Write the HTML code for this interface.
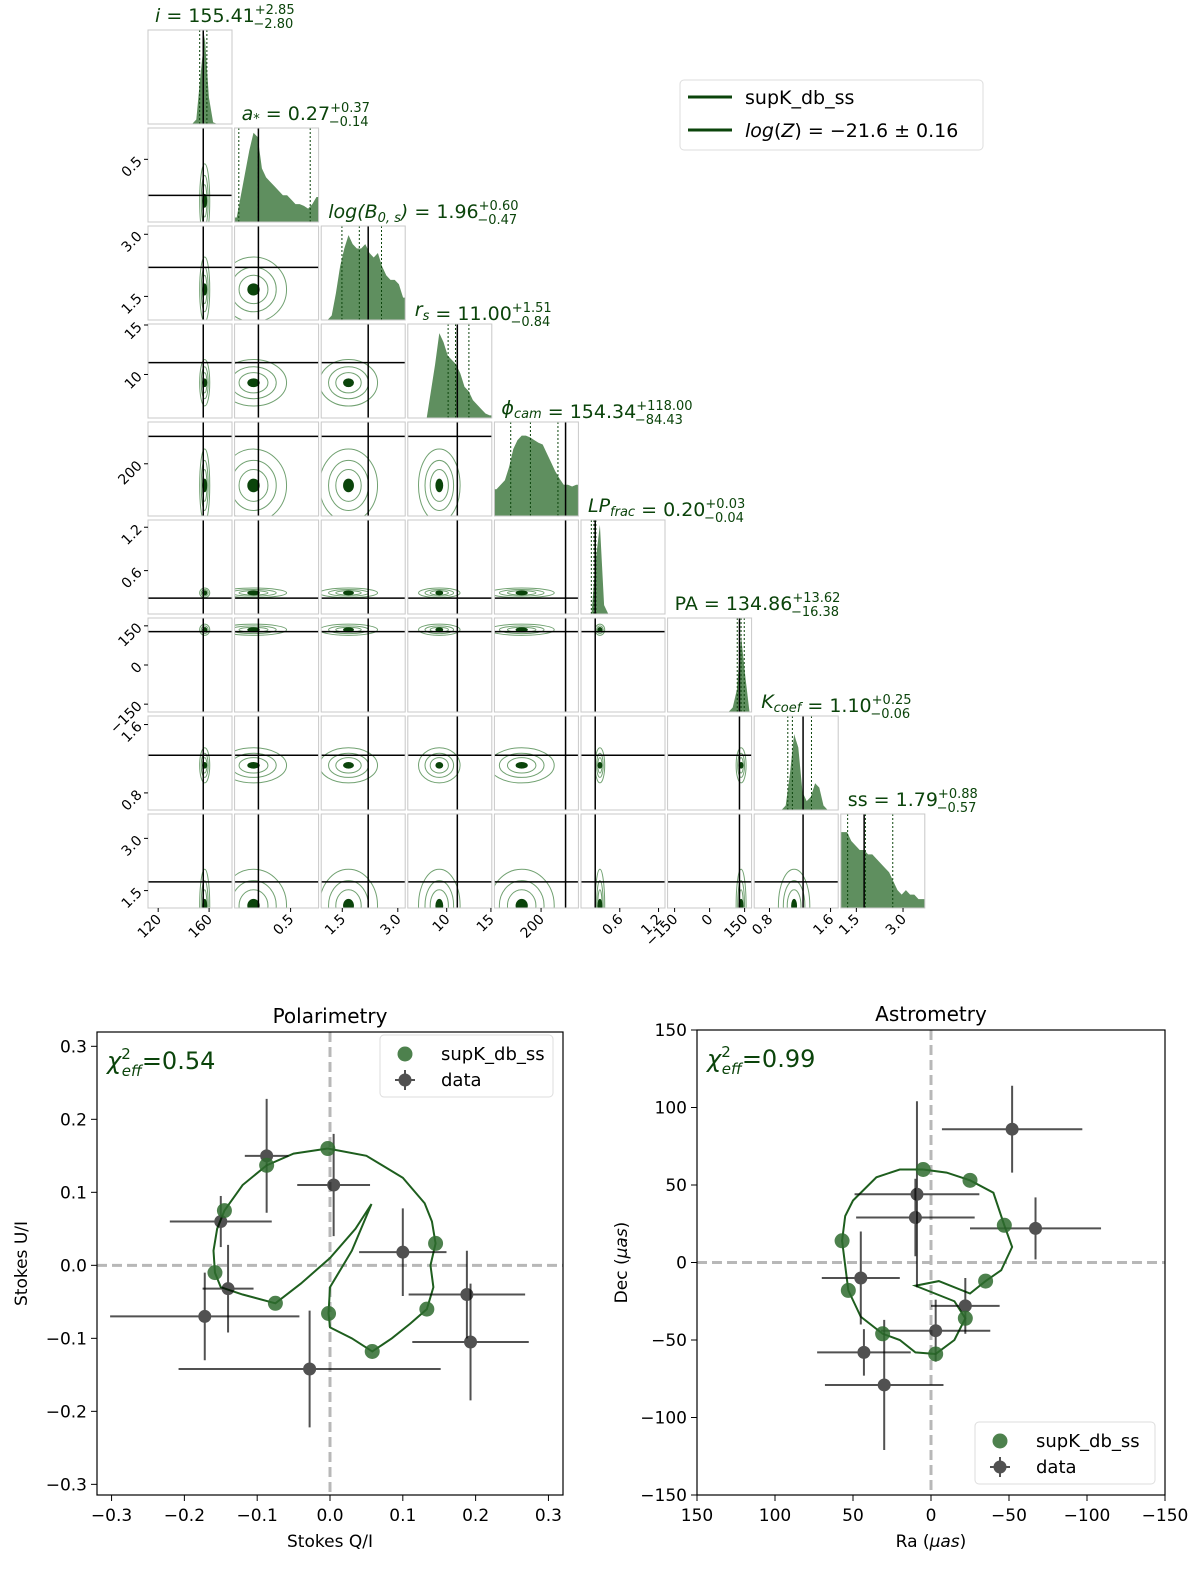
<!DOCTYPE html>
<html><head><meta charset="utf-8">
<style>
body{margin:0;background:#fff;}
#wrap{position:relative;width:1200px;height:1574px;overflow:hidden;font-family:"DejaVu Sans","Liberation Sans",sans-serif;}
svg text{font-family:"DejaVu Sans","Liberation Sans",sans-serif;}
</style></head>
<body>
<div id="wrap">
<svg id="svg" width="1200" height="1574" viewBox="0 0 1200 1574" xmlns="http://www.w3.org/2000/svg"></svg>
</div>
<script>
// ---------- corner plot data ----------
const paramLabels = ["i","a*","logB","rs","phi","LP","PA","K","ss"];
const paramLo = [112,0.1,0.93,5.6,0,0,-180,0.6,1.0];
const paramHi = [178,0.7,3.2,15.1,360,1.3,180,1.7,3.7];
const truthVals = [155.4,0.27,2.2,11.2,305,0.22,128,1.24,1.75];
const medians = [155.41,0.27,1.96,11.0,154.34,0.20,134.86,1.10,1.79];
const errPlus = [2.85,0.37,0.60,1.51,118.0,0.03,13.62,0.25,0.88];
const errMinus = [2.80,0.14,0.47,0.84,84.43,0.04,16.38,0.06,0.57];
const tickVals = [[120,160],[0.5],[1.5,3.0],[10,15],[200],[0.6,1.2],[-150,0,150],[0.8,1.6],[1.5,3.0]];
const tickText = [["120","160"],["0.5"],["1.5","3.0"],["10","15"],["200"],["0.6","1.2"],["\u2212150","0","150"],["0.8","1.6"],["1.5","3.0"]];
const hist = [
 [0,0,0,0,0,0,0,0,0,0,0,0.05,0.55,1.0,0.3,0.02,0,0,0,0],
 [0.05,0.3,0.55,0.8,1.0,0.95,0.6,0.5,0.45,0.4,0.35,0.3,0.3,0.25,0.2,0.2,0.18,0.15,0.2,0.28],
 [0,0,0.05,0.3,0.6,0.8,0.95,0.85,0.8,0.8,0.85,0.75,0.7,0.75,0.6,0.5,0.45,0.45,0.4,0.25],
 [0,0,0,0,0,0.3,0.6,0.95,0.85,0.7,0.65,0.6,0.5,0.35,0.3,0.2,0.15,0.1,0.05,0.03],
 [0.3,0.35,0.4,0.55,0.75,0.85,0.9,0.9,0.88,0.85,0.82,0.8,0.7,0.6,0.5,0.42,0.35,0.35,0.33,0.35],
 [0,0,0,0.6,1.0,0.1,0,0,0,0,0,0,0,0,0,0,0,0,0,0],
 [0,0,0,0,0,0,0,0,0,0,0,0,0,0,0,0.05,0.25,0.85,0.4,0],
 [0,0,0,0,0,0,0,0.05,0.4,0.85,0.7,0.2,0.1,0.15,0.3,0.25,0.05,0,0,0],
 [0.85,0.85,0.75,0.7,0.65,0.65,0.6,0.6,0.55,0.5,0.45,0.4,0.3,0.2,0.15,0.2,0.15,0.15,0.1,0.1]
];
const titleNames = ["i","a<tspan font-size='13' dy='3'>*</tspan><tspan dy='-3'> </tspan>","log(B<tspan font-size='13' dy='4'>0, s</tspan><tspan dy='-4'>)</tspan>","r<tspan font-size='13' dy='4'>s</tspan><tspan dy='-4'></tspan>","\u03d5<tspan font-size='13' dy='4'>cam</tspan><tspan dy='-4'></tspan>","LP<tspan font-size='13' dy='4'>frac</tspan><tspan dy='-4'></tspan>","PA","K<tspan font-size='13' dy='4'>coef</tspan><tspan dy='-4'></tspan>","ss"];
const titleItalic = [true,true,true,true,true,true,false,true,false];

// ---------- polarimetry data ----------
const polDataQ = [-0.087,-0.15,0.005,0.1,-0.14,-0.172,0.188,0.193,-0.028];
const polDataU = [0.15,0.06,0.11,0.018,-0.032,-0.07,-0.04,-0.105,-0.142];
const polErrQ = [0.03,0.07,0.05,0.06,0.035,0.13,0.08,0.08,0.18];
const polErrU = [0.078,0.035,0.07,0.06,0.06,0.06,0.06,0.08,0.08];
const polModQ = [-0.087,-0.145,-0.158,-0.075,-0.003,-0.002,0.058,0.133,0.145];
const polModU = [0.137,0.075,-0.01,-0.052,0.16,-0.066,-0.118,-0.06,0.03];
const polCurveQ = [-0.003,0.05,0.1,0.13,0.14,0.145,0.138,0.142,0.133,0.11,0.085,0.058,0.03,0.0,-0.002,0.0,0.03,0.057,0.035,0.0,-0.04,-0.075,-0.12,-0.15,-0.158,-0.16,-0.155,-0.145,-0.12,-0.087,-0.05,-0.003];
const polCurveU = [0.16,0.15,0.12,0.085,0.06,0.03,0.0,-0.03,-0.06,-0.08,-0.1,-0.118,-0.1,-0.085,-0.066,-0.03,0.02,0.084,0.05,0.01,-0.025,-0.052,-0.04,-0.03,-0.01,0.02,0.05,0.075,0.11,0.137,0.153,0.16];
const polTicks = [-0.3,-0.2,-0.1,0,0.1,0.2,0.3];
const polTickText = ["\u22120.3","\u22120.2","\u22120.1","0.0","0.1","0.2","0.3"];

// ---------- astrometry data ----------
const astDataRa = [-52,-67,9,10,45,43,30,-3,-22];
const astDataDec = [86,22,44,29,-10,-58,-79,-44,-28];
const astErrRa = [45,42,40,38,25,30,38,35,22];
const astErrDec = [28,20,60,25,30,15,42,20,18];
const astModRa = [57,53,31,5,-25,-47,-35,-22,-3];
const astModDec = [14,-18,-46,60,53,24,-12,-36,-59];
const astCurveRa = [5,-10,-25,-40,-47,-52,-45,-35,-25,-5,10,-15,-22,-15,-3,10,20,31,45,53,57,55,50,35,20,5];
const astCurveDec = [60,58,53,45,24,10,-5,-12,-20,-12,-15,-25,-36,-50,-59,-58,-50,-46,-35,-18,14,30,40,55,60,60];
const astTicks = [-150,-100,-50,0,50,100,150];
const astTickText = ["\u2212150","\u2212100","\u221250","0","50","100","150"];

// ---------- helpers ----------
const NS="http://www.w3.org/2000/svg";
const svg=document.getElementById('svg');
function mk(tag,attrs,parent){const e=document.createElementNS(NS,tag);for(const k in attrs)e.setAttribute(k,attrs[k]);(parent||svg).appendChild(e);return e;}
const GREEN="#0b440b", FILL="#5f8f5f";
const PX0=148, PITCH=86.6, PW=84, PY0=30, RP=98, PH=94;
function colX(c){return PX0+c*PITCH;}
function rowY(r){return PY0+r*RP;}
function sx(p,v){return colX(p)+(v-paramLo[p])/(paramHi[p]-paramLo[p])*PW;}
function sy(p,r,v){return rowY(r)+PH-(v-paramLo[p])/(paramHi[p]-paramLo[p])*PH;}
function peakFrac(p){const h=hist[p];let m=0;for(let k=0;k<h.length;k++)if(h[k]>h[m])m=k;return (m+0.5)/h.length;}
function spreadFrac(p){const h=hist[p];let s=0,mu=0;for(let k=0;k<h.length;k++){s+=h[k];mu+=h[k]*(k+0.5);}mu/=s;let v=0;for(let k=0;k<h.length;k++)v+=h[k]*Math.pow(k+0.5-mu,2);return Math.sqrt(v/s)/h.length;}

const defs=mk('defs',{});
for(let r=0;r<9;r++)for(let c=0;c<=r;c++){const cp=mk('clipPath',{id:'cp'+r+'_'+c},defs);mk('rect',{x:colX(c),y:rowY(r),width:PW,height:PH},cp);}

// ---------- corner plot ----------
for(let r=0;r<9;r++){
 for(let c=0;c<=r;c++){
  const g=mk('g',{'clip-path':'url(#cp'+r+'_'+c+')'});
  
  
  const x0=colX(c), y0=rowY(r);
  if(r===c){
   const h=hist[c]; const n=h.length; let d='M'+x0+','+(y0+PH)+' L'+x0+','+(y0+PH-h[0]*PH*0.95);
   for(let k=0;k<n;k++){const xm=x0+(k+0.5)/n*PW; const yy=y0+PH-h[k]*PH*0.95; d+=' L'+xm+','+yy;}
   d+=' L'+(x0+PW)+','+(y0+PH-h[n-1]*PH*0.95)+' L'+(x0+PW)+','+(y0+PH)+' Z';
   const hp=mk('path',{d:d,fill:FILL,stroke:'none'},g);
   
   
   const qs=[medians[c]-errMinus[c],medians[c],medians[c]+errPlus[c]];
   for(const q of qs){const xq=sx(c,q);const ql=mk('line',{x1:xq,x2:xq,y1:y0,y2:y0+PH,stroke:GREEN,'stroke-width':1,'stroke-dasharray':'2,2'},g);
    
    }
   const tx=sx(c,truthVals[c]);
   const tl=mk('line',{x1:tx,x2:tx,y1:y0,y2:y0+PH,stroke:'#000','stroke-width':1.5},g);
   
   
  } else {
   const cx=x0+peakFrac(c)*PW, cy=y0+PH-peakFrac(r)*PH;
   const rx=Math.max(3,spreadFrac(c)*PW), ry=Math.max(3,spreadFrac(r)*PH);
   const levels=[1.6,1.1,0.7];
   for(const L of levels){const el=mk('ellipse',{cx:cx,cy:cy,rx:rx*L,ry:ry*L,fill:'none',stroke:'#4d8a4d','stroke-width':1,opacity:0.8},g);
    
    }
   const core=mk('ellipse',{cx:cx,cy:cy,rx:Math.max(2.5,rx*0.3),ry:Math.max(2.5,ry*0.3),fill:GREEN},g);
   
   
   const tx=sx(c,truthVals[c]), ty=sy(r,r,truthVals[r]);
   const vl=mk('line',{x1:tx,x2:tx,y1:y0,y2:y0+PH,stroke:'#000','stroke-width':1.5},g);
   
   
   const hl=mk('line',{x1:x0,x2:x0+PW,y1:ty,y2:ty,stroke:'#000','stroke-width':1.5},g);
   
   
  }
  const fr=mk('rect',{x:x0,y:y0,width:PW,height:PH,fill:'none',stroke:'#c8c8c8','stroke-width':1});
  
  
 }
 const t=mk('text',{x:colX(r)+7,y:rowY(r)-8,'font-size':19,fill:GREEN});
 
 
 t.innerHTML=(titleItalic[r]?"<tspan font-style='italic'>":"<tspan>")+titleNames[r]+"</tspan> = "+medians[r].toFixed(2)+"<tspan font-size='13' dy='-8'>+"+errPlus[r].toFixed(2)+"</tspan><tspan font-size='13' dx='-"+(errPlus[r].toFixed(2).length*8.3+8)+"' dy='14'>\u2212"+errMinus[r].toFixed(2)+"</tspan>";
}
for(let c=0;c<9;c++){
 const yb=rowY(8)+PH;
 tickVals[c].forEach((v,k)=>{const x=sx(c,v);
  const tk=mk('line',{x1:x,x2:x,y1:yb,y2:yb+4,stroke:'#000'});
  
  
  const tt=mk('text',{x:x+4,y:yb+12,'font-size':14,'text-anchor':'end',transform:'rotate(-45 '+(x+4)+' '+(yb+12)+')'});
  
  
  tt.textContent=tickText[c][k];});
}
for(let r=1;r<9;r++){
 tickVals[r].forEach((v,k)=>{const y=sy(r,r,v);
  const tk=mk('line',{x1:PX0-4,x2:PX0,y1:y,y2:y,stroke:'#000'});
  
  
  const tt=mk('text',{x:PX0-8,y:y+4,'font-size':14,'text-anchor':'end',transform:'rotate(-45 '+(PX0-8)+' '+(y)+')'});
  
  
  tt.textContent=tickText[r][k];});
}
const lg=mk('g',{});


mk('rect',{x:680,y:80,width:303,height:70,rx:4,fill:'#fff',stroke:'#ddd'},lg);
mk('line',{x1:688,x2:732,y1:97,y2:97,stroke:GREEN,'stroke-width':3},lg);
mk('line',{x1:688,x2:732,y1:130,y2:130,stroke:GREEN,'stroke-width':3},lg);
const l1=mk('text',{x:745,y:104,'font-size':19},lg);l1.textContent='supK_db_ss';


const l2=mk('text',{x:745,y:137,'font-size':19},lg);


l2.innerHTML="<tspan font-style='italic'>log</tspan>(<tspan font-style='italic'>Z</tspan>) = \u221221.6 \u00b1 0.16";

// ---------- scatter panels ----------
function scatterPanel(o){
 const g=mk('g',{});
 
 
 const X=v=>o.L+(v-o.xmin)/(o.xmax-o.xmin)*(o.R-o.L);
 const Y=v=>o.B-(v-o.ymin)/(o.ymax-o.ymin)*(o.B-o.T);
 const cpid='clip'+o.name;const cp=mk('clipPath',{id:cpid},defs);mk('rect',{x:o.L,y:o.T,width:o.R-o.L,height:o.B-o.T},cp);
 const inner=mk('g',{'clip-path':'url(#'+cpid+')'},g);
 const z1=mk('line',{x1:X(0),x2:X(0),y1:o.T,y2:o.B,stroke:'#b8b8b8','stroke-width':3,'stroke-dasharray':'10,5'},inner);
 
 
 const z2=mk('line',{x1:o.L,x2:o.R,y1:Y(0),y2:Y(0),stroke:'#b8b8b8','stroke-width':3,'stroke-dasharray':'10,5'},inner);
 
 
 let d='';o.cx.forEach((v,k)=>{d+=(k?' L':'M')+X(v)+','+Y(o.cy[k]);});
 const cv=mk('path',{d:d,fill:'none',stroke:'#1e5e1e','stroke-width':2},inner);
 
 
 o.dx.forEach((v,k)=>{
  const eg=mk('g',{opacity:0.68},inner);
  
  
  mk('line',{x1:X(v-o.ex[k]),x2:X(v+o.ex[k]),y1:Y(o.dy[k]),y2:Y(o.dy[k]),stroke:'#000','stroke-width':2},eg);
  mk('line',{x1:X(v),x2:X(v),y1:Y(o.dy[k]-o.ey[k]),y2:Y(o.dy[k]+o.ey[k]),stroke:'#000','stroke-width':2},eg);
  mk('circle',{cx:X(v),cy:Y(o.dy[k]),r:6.5,fill:'#000'},eg);
 });
 o.mx.forEach((v,k)=>{const c=mk('circle',{cx:X(v),cy:Y(o.my[k]),r:7.5,fill:'#2e6b2e',opacity:0.85},inner);
  
  });
 mk('rect',{x:o.L,y:o.T,width:o.R-o.L,height:o.B-o.T,fill:'none',stroke:'#000','stroke-width':1.2},g);
 o.xt.forEach((v,k)=>{const x=X(v);mk('line',{x1:x,x2:x,y1:o.B,y2:o.B+6,stroke:'#000'},g);
  const t=mk('text',{x:x,y:o.B+26,'font-size':17,'text-anchor':'middle'},g);
  
  
  t.textContent=o.xtt[k];});
 o.yt.forEach((v,k)=>{const y=Y(v);mk('line',{x1:o.L-6,x2:o.L,y1:y,y2:y,stroke:'#000'},g);
  const t=mk('text',{x:o.L-10,y:y+6,'font-size':17,'text-anchor':'end'},g);
  
  
  t.textContent=o.ytt[k];});
 const tt=mk('text',{x:(o.L+o.R)/2,y:o.T-9,'font-size':20,'text-anchor':'middle'},g);
 
 
 tt.textContent=o.title;
 const xl=mk('text',{x:(o.L+o.R)/2,y:o.B+52,'font-size':17,'text-anchor':'middle'},g);
 
 
 xl.innerHTML=o.xlab;
 const yx=o.L-70, yy=(o.T+o.B)/2;
 const yl=mk('text',{x:yx,y:yy,'font-size':17,'text-anchor':'middle',transform:'rotate(-90 '+yx+' '+yy+')'},g);
 
 
 yl.innerHTML=o.ylab;
 const ch=mk('text',{x:o.L+10,y:o.T+37,'font-size':24,fill:GREEN},g);
 
 
 ch.innerHTML="<tspan font-style='italic'>\u03c7</tspan><tspan font-size='15' dy='-10'>2</tspan><tspan font-size='15' font-style='italic' dx='-9' dy='17'>eff</tspan><tspan dy='-7'>=" + o.chi+"</tspan>";
 const lgd=mk('g',{},g);
 
 
 mk('rect',{x:o.lx,y:o.ly,width:o.lw,height:62,rx:4,fill:'#fff',stroke:'#ddd'},lgd);
 mk('circle',{cx:o.lx+25,cy:o.ly+19,r:7.5,fill:'#2e6b2e',opacity:0.85},lgd);
 const dg=mk('g',{opacity:0.68},lgd);
 mk('line',{x1:o.lx+15,x2:o.lx+35,y1:o.ly+45,y2:o.ly+45,stroke:'#000','stroke-width':2},dg);
 mk('line',{x1:o.lx+25,x2:o.lx+25,y1:o.ly+35,y2:o.ly+55,stroke:'#000','stroke-width':2},dg);
 mk('circle',{cx:o.lx+25,cy:o.ly+45,r:6.5,fill:'#000'},dg);
 const a=mk('text',{x:o.lx+61,y:o.ly+25,'font-size':18},lgd);a.textContent='supK_db_ss';
 
 
 const b=mk('text',{x:o.lx+61,y:o.ly+51,'font-size':18},lgd);b.textContent='data';
 
 
}
scatterPanel({name:'polarimetry-panel',L:97,R:563,T:1032,B:1495,xmin:-0.32,xmax:0.32,ymin:-0.3146,ymax:0.3196,
 dx:polDataQ,dy:polDataU,ex:polErrQ,ey:polErrU,mx:polModQ,my:polModU,cx:polCurveQ,cy:polCurveU,
 xt:polTicks,xtt:polTickText,yt:polTicks,ytt:polTickText,title:'Polarimetry',xlab:'Stokes Q/I',ylab:'Stokes U/I',chi:'0.54',lx:380,ly:1035,lw:173});
scatterPanel({name:'astrometry-panel',L:697,R:1165,T:1030,B:1495,xmin:150,xmax:-150,ymin:-150,ymax:150,
 dx:astDataRa,dy:astDataDec,ex:astErrRa,ey:astErrDec,mx:astModRa,my:astModDec,cx:astCurveRa,cy:astCurveDec,
 xt:astTicks,xtt:astTickText,yt:astTicks,ytt:astTickText,title:'Astrometry',xlab:"Ra (<tspan font-style='italic'>\u03bcas</tspan>)",ylab:"Dec (<tspan font-style='italic'>\u03bcas</tspan>)",chi:'0.99',lx:975,ly:1422,lw:180});
</script>
</body></html>
